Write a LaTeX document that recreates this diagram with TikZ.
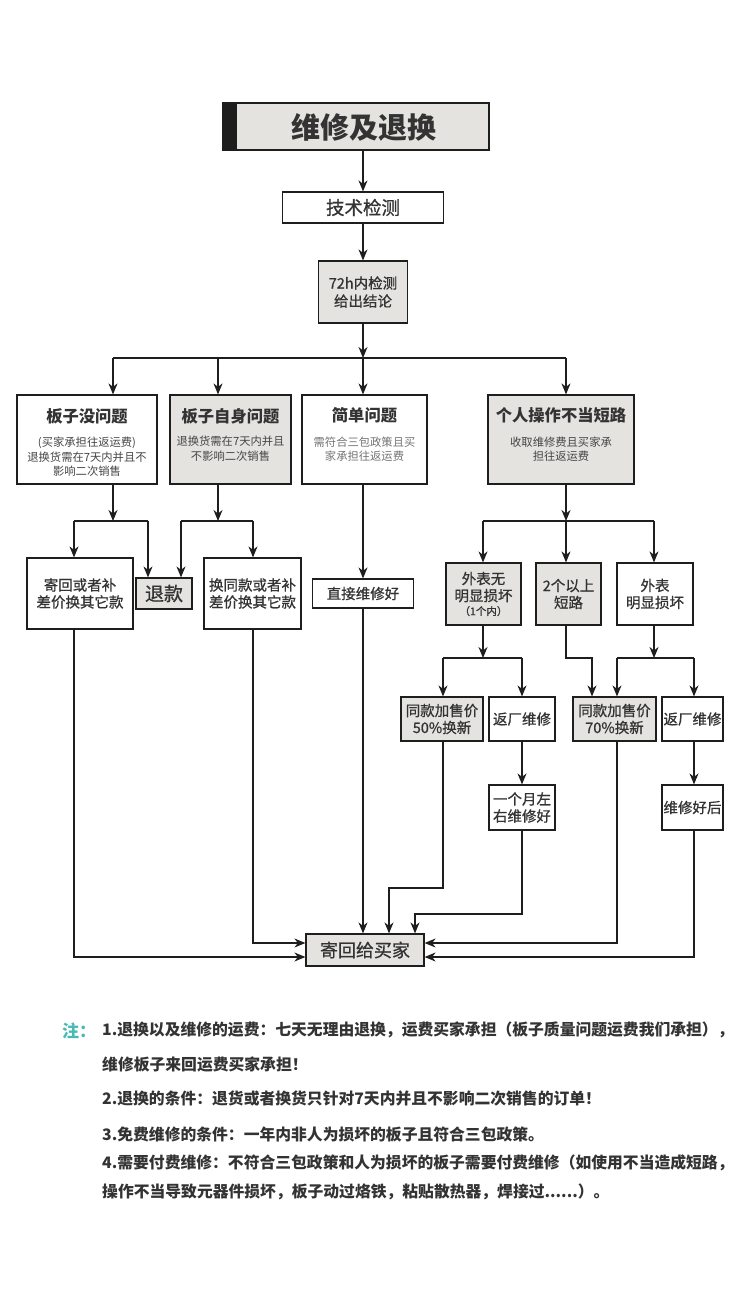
\documentclass[tikz,border=0pt]{standalone}
\usepackage{fontspec}
\setmainfont{Noto Sans CJK SC}
\newfontfamily\medfont[FakeBold=0.8]{Noto Sans CJK SC}
\usetikzlibrary{arrows.meta}
\definecolor{boxgray}{RGB}{229,227,224}
\definecolor{txt}{RGB}{51,51,51}
\definecolor{subtxt}{RGB}{68,68,68}
\definecolor{lighttxt}{RGB}{115,115,115}
\definecolor{notecol}{RGB}{72,186,180}
\definecolor{linecol}{RGB}{30,30,30}
\newcommand{\fsz}[2]{\fontsize{#1pt}{#2pt}\selectfont}
\begin{document}
\begin{tikzpicture}[x=1pt,y=-1pt,
  box/.style={draw=linecol, line width=1.2pt, inner sep=0pt, align=center, text=txt, font=\medfont\fsz{14.5}{17}},
  gbox/.style={box, fill=boxgray},
  wbox/.style={box, fill=white},
  ttl/.style={font=\bfseries\fsz{16.3}{20}, text=txt, inner sep=0pt},
  sub/.style={font=\fsz{11.3}{14.5}, text=subtxt, align=center, inner sep=0pt},
  arr/.style={-{Stealth[length=11pt,width=9pt,inset=3.5pt]}, line width=1.2pt, draw=linecol},
  ln/.style={line width=1.2pt, draw=linecol},
  notetxt/.style={anchor=west, font=\bfseries\fsz{15.8}{19}, text=txt, inner sep=0pt},
  ]
\fill[white] (0,0) rectangle (750,1300);
\useasboundingbox (0,0) rectangle (750,1300);

% title
\node[gbox, minimum width=266pt, minimum height=47pt] (title) at (356,126.5) {};
\fill[linecol] (title.north west) rectangle ([xshift=15pt]title.south west);
\node[font=\bfseries\fsz{29}{34}, text=txt] (titletext) at (363.5,127) {维修及退换};

\node[wbox, minimum width=161pt, minimum height=31pt, font=\medfont\fsz{18.5}{22}] (tech) at (363,207.5) {技术检测};
\node[gbox, minimum width=89pt, minimum height=62pt, font=\medfont\fsz{14.5}{18}] (chk) at (363,292) {72h内检测\\给出结论};

% row 2
\node[wbox, minimum width=140pt, minimum height=89pt] (n1) at (87,439.5) {};
\node[gbox, minimum width=121pt, minimum height=89pt] (n2) at (230.5,439.5) {};
\node[wbox, minimum width=125pt, minimum height=89pt] (n3) at (364.5,439.5) {};
\node[gbox, minimum width=146pt, minimum height=89pt] (n4) at (561,439.5) {};
\node[ttl] (n1t) at (87,416) {板子没问题};
\node[sub] (n1s) at (87,457) {(买家承担往返运费)\\退换货需在7天内并且不\\影响二次销售};
\node[ttl] (n2t) at (230.5,416) {板子自身问题};
\node[sub] (n2s) at (230.5,448.5) {退换货需在7天内并且\\不影响二次销售};
\node[ttl] (n3t) at (364.5,415) {简单问题};
\node[sub, text=lighttxt] (n3s) at (364.5,449) {需符合三包政策且买\\家承担往返运费};
\node[ttl] (n4t) at (561,415) {个人操作不当短路};
\node[sub] (n4s) at (561,449) {收取维修费且买家承\\担往返运费};

% row 3
\node[wbox, minimum width=106pt, minimum height=71pt] (a1) at (80,593.5) {寄回或者补\\差价换其它款};
\node[gbox, minimum width=56pt, minimum height=31pt, font=\medfont\fsz{19}{22}] (a2) at (164,593.5) {退款};
\node[wbox, minimum width=97pt, minimum height=71pt] (a3) at (252.5,593.5) {换同款或者补\\差价换其它款};
\node[wbox, minimum width=101pt, minimum height=29pt] (a4) at (363,593.5) {直接维修好};
\node[gbox, minimum width=75pt, minimum height=62pt] (b1) at (483.5,594) {外表无\\明显损坏\\[-3pt]{\fsz{10.5}{12}（1个内）}};
\node[gbox, minimum width=65pt, minimum height=62pt] (b2) at (568.5,594) {2个以上\\短路};
\node[wbox, minimum width=76pt, minimum height=62pt] (b3) at (655,594) {外表\\明显损坏};

% row 4
\node[gbox, minimum width=82pt, minimum height=44pt] (c1) at (442,719) {同款加售价\\50\%换新};
\node[wbox, minimum width=66pt, minimum height=44pt] (c2) at (522,719) {返厂维修};
\node[gbox, minimum width=83pt, minimum height=44pt] (c3) at (614.5,719) {同款加售价\\70\%换新};
\node[wbox, minimum width=61pt, minimum height=44pt] (c4) at (692.5,719) {返厂维修};
\node[wbox, minimum width=66pt, minimum height=45pt] (d1) at (522,807.5) {一个月左\\右维修好};
\node[wbox, minimum width=61pt, minimum height=45pt] (d2) at (692.5,807.5) {维修好后};

\node[gbox, minimum width=118pt, minimum height=32pt, font=\medfont\fsz{18}{21}] (e) at (365,950) {寄回给买家};

% coordinates
\coordinate (j1) at (363,358);
\coordinate (j1a) at (113,358);
\coordinate (j1b) at (218,358);
\coordinate (j1d) at (566,358);
\coordinate (j2a) at (113,521);
\coordinate (j2al) at (74,521);
\coordinate (j2ar) at (148,521);
\coordinate (j2b) at (218,521);
\coordinate (j2bl) at (181,521);
\coordinate (j2br) at (253,521);
\coordinate (j2d) at (566,521);
\coordinate (j2dl) at (483,521);
\coordinate (j2dr) at (654,521);
\coordinate (j3a) at (483,658);
\coordinate (j3al) at (443,658);
\coordinate (j3ar) at (522,658);
\coordinate (j3b) at (592,658);
\coordinate (j3c) at (654,658);
\coordinate (j3cl) at (617,658);
\coordinate (j3cr) at (694,658);
\coordinate (k1) at (389,888);
\coordinate (k2) at (415,914);

% connectors top
\draw[arr] (title.south -| tech.north) -- (tech.north);
\draw[arr] (tech.south) -- (chk.north);
\draw[arr] (chk.south) -- (j1);
\draw[ln] (j1a) -- (j1d);
\draw[arr] (j1a) -- (j1a |- n1.north);
\draw[arr] (j1b) -- (j1b |- n2.north);
\draw[arr] (j1) -- (j1 |- n3.north);
\draw[arr] (j1d) -- (j1d |- n4.north);

% row2 -> row3
\draw[arr] (n1.south -| j2a) -- (j2a);
\draw[ln] (j2al) -- (j2ar);
\draw[arr] (j2al) -- (j2al |- a1.north);
\draw[arr] (j2ar) -- (j2ar |- a2.north);
\draw[arr] (n2.south -| j2b) -- (j2b);
\draw[ln] (j2bl) -- (j2br);
\draw[arr] (j2bl) -- (j2bl |- a2.north);
\draw[arr] (j2br) -- (j2br |- a3.north);
\draw[arr] (n3.south -| j1) -- (j1 |- a4.north);
\draw[arr] (n4.south -| j2d) -- (j2d);
\draw[ln] (j2dl) -- (j2dr);
\draw[arr] (j2dl) -- (j2dl |- b1.north);
\draw[arr] (j2d) -- (j2d |- b2.north);
\draw[arr] (j2dr) -- (j2dr |- b3.north);

% row3 -> row4
\draw[arr] (b1.south -| j3a) -- (j3a);
\draw[ln] (j3al) -- (j3ar);
\draw[arr] (j3al) -- (j3al |- c1.north);
\draw[arr] (j3ar) -- (j3ar |- c2.north);
\draw[arr] (b2.south -| j2d) |- (j3b) -- (j3b |- c3.north);
\draw[arr] (b3.south -| j3c) -- (j3c);
\draw[ln] (j3cl) -- (j3cr);
\draw[arr] (j3cl) -- (j3cl |- c3.north);
\draw[arr] (j3cr) -- (j3cr |- c4.north);
\draw[arr] (c2.south -| j3ar) -- (j3ar |- d1.north);
\draw[arr] (c4.south -| j3cr) -- (j3cr |- d2.north);

% to final box
\draw[arr] (a1.south -| j2al) |- ([yshift=-7pt]e.west);
\draw[arr] (a3.south -| j2br) |- ([yshift=7pt]e.west);
\draw[arr] (a4.south) -- (e.north -| a4.south);
\draw[arr] (c1.south -| j3al) |- (k1) -- (k1 |- e.north);
\draw[arr] (d1.south -| j3ar) |- (k2) -- (k2 |- e.north);
\draw[arr] (c3.south -| j3cl) |- ([yshift=7pt]e.east);
\draw[arr] (d2.south -| j3cr) |- ([yshift=-7pt]e.east);

% notes
\node[anchor=west, font=\bfseries\fsz{17}{20}, text=notecol, inner sep=0pt] (note) at (62,1031) {注：};
\node[notetxt] (l1) at (102,1030) {1.退换以及维修的运费：七天无理由退换，运费买家承担（板子质量问题运费我们承担），};
\node[notetxt] (l2) at (102,1064) {维修板子来回运费买家承担！};
\node[notetxt] (l3) at (102,1098) {2.退换的条件：退货或者换货只针对7天内并且不影响二次销售的订单！};
\node[notetxt] (l4) at (102,1134) {3.免费维修的条件：一年内非人为损坏的板子且符合三包政策。};
\node[notetxt] (l5) at (102,1163) {4.需要付费维修：不符合三包政策和人为损坏的板子需要付费维修（如使用不当造成短路，};
\node[notetxt] (l6) at (102,1192) {操作不当导致元器件损坏，板子动过烙铁，粘贴散热器，焊接过......）。};
\end{tikzpicture}
\end{document}
